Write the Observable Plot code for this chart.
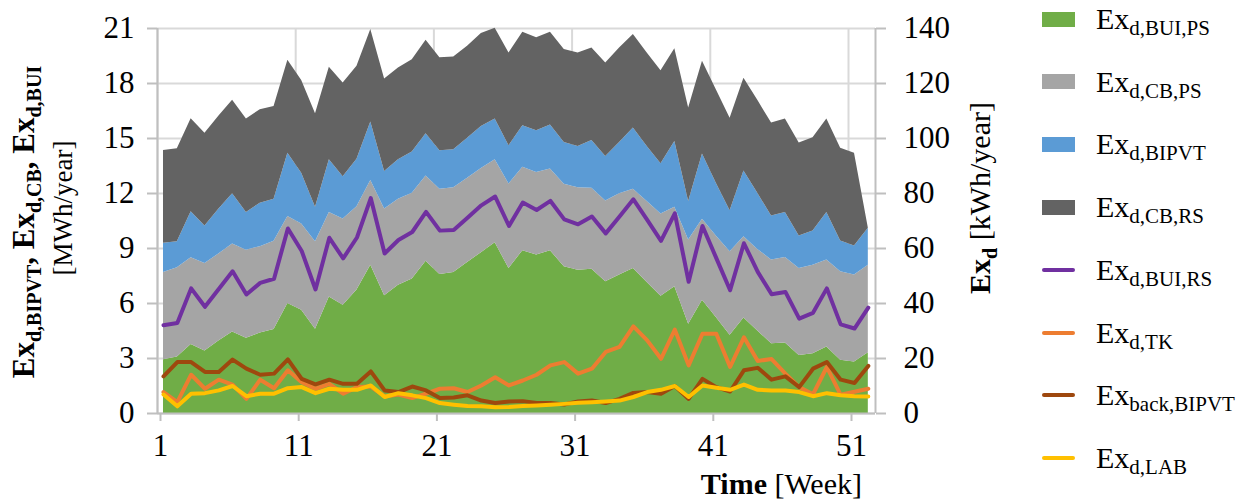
<!DOCTYPE html>
<html>
<head>
<meta charset="utf-8">
<script src="https://cdn.jsdelivr.net/npm/d3@7"></script>
<script src="https://cdn.jsdelivr.net/npm/@observablehq/plot@0.6"></script>
<style>
  body { margin: 0; background: #fff; }
  #wrap { position: relative; width: 1250px; height: 502px; font-family: "Liberation Serif", "Times New Roman", serif; color: #000; }
  #chart { position: absolute; left: 0; top: 0; }
  .item { position: absolute; left: 1042px; height: 40px; display: flex; align-items: center; white-space: nowrap; }
  .sw { display: inline-block; width: 33px; }
  .lbl { margin-left: 21px; font-size: 30px; }
  .lbl sub { font-size: 21px; vertical-align: baseline; position: relative; top: 6px; }
</style>
</head>
<body>
<div id="wrap"><div id="chart"></div><div id="legend"></div></div>
<script>
// ---- data ----
const weeks = [1,2,3,4,5,6,7,8,9,10,11,12,13,14,15,16,17,18,19,20,21,22,23,24,25,26,27,28,29,30,31,32,33,34,35,36,37,38,39,40,41,42,43,44,45,46,47,48,49,50,51,52];

// stacked areas [MWh/year], left axis
const exBuiPs = [2.93,3.08,3.76,3.41,3.96,4.45,4.10,4.39,4.58,6.00, 5.63,4.59,6.36,5.91,6.73,8.09,6.42,7.00,7.33,8.31, 7.58,7.69,8.24,8.77,9.31,7.91,8.88,8.64,8.88,8.00, 7.82,7.87,7.18,7.55,7.91,7.15,6.40,6.91,4.87,6.18, 5.23,4.27,5.21,4.50,3.81,3.85,3.17,3.26,3.63,2.90, 2.81,3.32];
const exCbPs = [4.76,4.87,4.73,4.77,4.74,4.79,4.81,4.71,4.81,4.74, 4.71,4.78,4.61,4.70,4.55,4.62,4.74,4.68,4.68,4.65, 4.65,4.63,4.59,4.59,4.53,4.61,4.55,4.50,4.46,4.51, 4.50,4.42,4.41,4.43,4.32,4.41,4.48,4.34,4.59,4.41, 4.45,4.55,4.43,4.45,4.56,4.66,4.74,4.83,4.74,4.83, 4.74,4.77];
const exBipvt = [1.59,1.42,2.52,2.05,2.44,2.75,2.05,2.37,2.29,3.46, 2.77,1.88,2.87,2.31,2.59,3.19,2.04,2.16,2.25,2.30, 2.10,2.06,2.19,2.30,2.22,2.08,2.27,2.28,2.39,2.27, 2.25,2.60,2.43,2.80,3.34,3.01,2.74,3.59,2.10,3.57, 2.88,2.24,3.59,3.06,2.40,2.45,1.77,1.86,2.60,1.68, 1.58,2.01];
const exCbRs = [5.07,5.07,5.07,5.06,5.07,5.09,5.10,5.10,5.07,5.07, 5.05,5.10,5.05,5.11,5.07,5.05,5.05,5.01,5.04,5.10, 5.07,5.07,5.01,5.07,4.95,5.07,5.10,5.07,5.07,5.07, 5.10,5.05,5.10,5.16,5.10,5.10,5.08,5.05,5.10,5.05, 5.10,5.05,5.05,5.07,5.07,5.10,5.07,5.09,5.09,5.06, 5.07,0.02];

// lines [kWh/year], right axis
const exBuiRs = [32.1,32.9,45.5,38.8,45.3,51.7,43.3,47.5,49.0,67.3, 59.1,45.1,63.9,56.4,64.0,78.3,58.2,63.1,66.0,73.3, 66.5,66.7,71.2,75.7,78.9,68.2,76.7,74.0,77.3,70.6, 68.8,71.6,65.5,71.6,77.9,70.4,62.8,72.8,47.9,68.2, 56.5,44.8,61.9,51.5,43.4,44.2,34.5,36.6,45.5,32.4, 30.9,38.5];
const exTk = [7.8,4.1,14.1,9.0,12.3,10.5,5.3,12.3,9.2,15.7, 11.4,9.0,10.8,7.2,9.6,9.8,6.2,6.9,5.6,7.2, 9.0,9.2,7.8,10.2,13.2,10.2,12.0,14.1,17.5,18.7, 14.5,16.3,22.4,24.2,31.7,26.6,19.9,30.5,17.5,29.0, 29.0,16.9,27.7,19.1,19.8,14.5,9.6,7.0,16.9,6.8, 7.9,9.0];
const exBackBipvt = [13.5,18.7,18.7,15.1,15.1,19.6,16.3,14.1,14.5,19.7, 12.6,10.6,12.3,10.8,10.8,15.3,8.4,7.8,9.8,8.4, 5.6,5.8,6.6,4.7,3.8,4.4,4.5,3.8,3.8,3.3, 4.4,4.7,3.8,5.3,7.5,7.8,7.2,10.0,5.3,12.6, 9.6,8.0,15.7,16.6,12.3,13.5,9.6,16.3,18.7,12.3, 11.1,17.3];
const exLab = [6.9,2.6,7.2,7.4,8.4,10.0,6.3,7.2,7.2,9.2, 9.6,7.4,9.0,8.6,8.6,10.2,6.0,7.4,6.6,5.6, 3.8,3.2,2.7,2.6,2.3,2.4,2.7,2.9,3.2,3.5, 3.9,4.1,4.4,4.7,6.0,7.8,8.6,10.0,6.0,10.2, 9.4,8.6,10.5,8.6,8.4,8.4,7.8,6.3,7.4,6.6, 6.3,6.2];

// axes
const leftTicks = [0,3,6,9,12,15,18,21];
const rightTickLabels = ["0","20","40","60","80","100","120","140"];
const xTickWeeks = [1,11,21,31,41,51];
const xTickLabels = ["1","11","21","31","41","51"];

const areaNames = ["BUI,PS","CB,PS","BIPVT","CB,RS"];
const areaColors = ["#70AD47","#A5A5A5","#5B9BD5","#636363"];

// ---- build ----
const areaSeries = [exBuiPs, exCbPs, exBipvt, exCbRs];
const areaData = [];
areaSeries.forEach((arr, k) => arr.forEach((v, i) => areaData.push({week: weeks[i], value: v, series: areaNames[k]})));

const kwhToMwh = 3 / 20;           // right axis 140 kWh aligns with left 21 MWh
const xOffset = -0.434;            // gridlines/ticks sit a little left of each category
const xTickPos = xTickWeeks.map(w => w + xOffset);
const xDomain = [1 + xOffset, 52.52];
const SERIF = "'Liberation Serif', 'Times New Roman', serif";

function lineMark(values, color) {
  return Plot.lineY(weeks, {x: d => d, y: (d, i) => values[i] * kwhToMwh, stroke: color, strokeWidth: 4, strokeLinejoin: "round", strokeLinecap: "round"});
}

const plot = Plot.plot({
  width: 1035,
  height: 502,
  marginLeft: 157,
  marginRight: 160,
  marginTop: 28,
  marginBottom: 89,
  x: {domain: xDomain},
  y: {domain: [0, 21]},
  color: {domain: areaNames, range: areaColors},
  style: {fontFamily: SERIF, fontSize: "31px", color: "#000", background: "#fff"},
  marks: [
    Plot.gridY(leftTicks, {stroke: "#D9D9D9", strokeOpacity: 1, strokeWidth: 2}),
    Plot.gridX(xTickPos, {stroke: "#D9D9D9", strokeOpacity: 1, strokeWidth: 2}),
    Plot.areaY(areaData, {x: "week", y: "value", fill: "series", order: areaNames}),
    lineMark(exBuiRs, "#7030A0"),
    lineMark(exTk, "#ED7D31"),
    lineMark(exBackBipvt, "#9E480E"),
    lineMark(exLab, "#FFC000"),
    Plot.ruleX([xDomain[0], xDomain[1]], {stroke: "#BFBFBF", strokeWidth: 2}),
    Plot.ruleY([0], {stroke: "#BFBFBF", strokeWidth: 2}),
    Plot.axisY(leftTicks, {anchor: "left", tickSize: 10, tickPadding: 13, stroke: "#BFBFBF", strokeWidth: 2, fill: "#000", label: null}),
    Plot.axisY(leftTicks, {anchor: "right", tickSize: 10, tickPadding: 18, stroke: "#BFBFBF", strokeWidth: 2, fill: "#000", label: null, tickFormat: d => rightTickLabels[leftTicks.indexOf(d)]}),
    Plot.axisX(xTickPos, {anchor: "bottom", tickSize: 8, tickPadding: 12, stroke: "#BFBFBF", strokeWidth: 2, fill: "#000", label: null, dx: 3, tickFormat: d => xTickLabels[xTickPos.indexOf(d)]})
  ]
});
document.getElementById("chart").appendChild(plot);

// ---- axis titles (rich text with subscripts) ----
const svg = d3.select(plot);
function richText(x, y, rotate, anchor, parts, size, subSize) {
  const t = svg.append("text")
    .attr("transform", `translate(${x},${y})` + (rotate ? ` rotate(${rotate})` : ""))
    .attr("text-anchor", anchor)
    .style("font-family", SERIF)
    .attr("fill", "#000");
  let shifted = 0;
  parts.forEach(p => {
    const s = t.append("tspan").text(p.t)
      .style("font-family", SERIF)
      .attr("font-size", p.sub ? subSize : size)
      .attr("font-weight", p.bold ? "bold" : "normal");
    const want = p.sub ? 7 : 0;
    if (want !== shifted) { s.attr("dy", want - shifted); shifted = want; }
  });
  return t;
}
richText(34, 222, -90, "middle", [
  {t: "Ex", bold: true}, {t: "d,BIPVT", bold: true, sub: true},
  {t: ", Ex", bold: true}, {t: "d,CB", bold: true, sub: true},
  {t: ", Ex", bold: true}, {t: "d,BUI", bold: true, sub: true}
], 31, 20);
richText(72, 208, -90, "middle", [{t: "[MWh/year]"}], 27, 20);
richText(990, 198, -90, "middle", [
  {t: "Ex", bold: true}, {t: "d", bold: true, sub: true}, {t: " [kWh/year]"}
], 30, 20);
richText(862, 494, 0, "end", [{t: "Time", bold: true}, {t: " [Week]"}], 30, 20);

// ---- legend ----
const legendItems = [
  {sub: "d,BUI,PS", color: "#70AD47", kind: "area"},
  {sub: "d,CB,PS", color: "#A5A5A5", kind: "area"},
  {sub: "d,BIPVT", color: "#5B9BD5", kind: "area"},
  {sub: "d,CB,RS", color: "#636363", kind: "area"},
  {sub: "d,BUI,RS", color: "#7030A0", kind: "line"},
  {sub: "d,TK", color: "#ED7D31", kind: "line"},
  {sub: "back,BIPVT", color: "#9E480E", kind: "line"},
  {sub: "d,LAB", color: "#FFC000", kind: "line"}
];
const legend = document.getElementById("legend");
legendItems.forEach((it, i) => {
  const c = 19 + i * 62.7;
  const div = document.createElement("div");
  div.className = "item";
  div.style.top = (c - 20) + "px";
  const sw = document.createElement("span");
  sw.className = "sw";
  sw.style.height = it.kind === "area" ? "15px" : "4px";
  sw.style.background = it.color;
  if (it.kind === "line") sw.style.borderRadius = "2px";
  const lbl = document.createElement("span");
  lbl.className = "lbl";
  lbl.innerHTML = "Ex<sub>" + it.sub + "</sub>";
  div.appendChild(sw);
  div.appendChild(lbl);
  legend.appendChild(div);
});
</script>
</body>
</html>
